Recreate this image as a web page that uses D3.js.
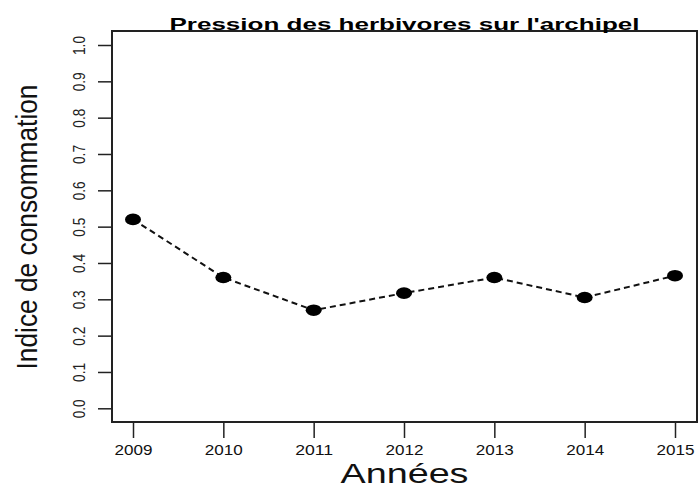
<!DOCTYPE html>
<html>
<head>
<meta charset="utf-8">
<script src="https://cdn.jsdelivr.net/npm/d3@7/dist/d3.min.js"></script>
<style>
  html, body { margin: 0; padding: 0; background: #fff; }
  svg { display: block; font-family: "Liberation Sans", Arial, sans-serif; }
</style>
</head>
<body>
<svg id="chart" width="700" height="491"></svg>
<script>
// Herbivore pressure index per year
const years = [2009, 2010, 2011, 2012, 2013, 2014, 2015];
const consumption = [0.52, 0.36, 0.27, 0.317, 0.36, 0.305, 0.365];
const yTicks = [0, 0.1, 0.2, 0.3, 0.4, 0.5, 0.6, 0.7, 0.8, 0.9, 1.0];
const title = "Pression des herbivores sur l'archipel";
const xTitle = "Années";
const yTitle = "Indice de consommation";

const svg = d3.select("#chart");
const box = { left: 112, right: 697, top: 31, bottom: 422 };

const x = d3.scaleLinear().domain([2009, 2015]).range([133, 675]);
const y = d3.scaleLinear().domain([0, 1]).range([408.3, 45]);

// Y axis: ticks and rotated labels
const yAxis = d3.axisLeft(y).tickValues(yTicks).tickSize(14).tickPadding(0)
  .tickFormat(d3.format(".1f"));
const gy = svg.append("g").attr("transform", `translate(${box.left},0)`).call(yAxis);
gy.select(".domain").remove();
gy.attr("font-size", null);
gy.selectAll(".tick line").attr("stroke", "#222").attr("stroke-width", 1.5);
gy.selectAll(".tick text")
  .attr("x", 0).attr("dy", null)
  .attr("transform", "translate(-33,0) rotate(-90)")
  .attr("text-anchor", "middle")
  .attr("dominant-baseline", "central")
  .attr("textLength", 19).attr("lengthAdjust", "spacingAndGlyphs")
  .attr("font-size", 17).attr("fill", "#222");

// X axis
const xAxis = d3.axisBottom(x).tickValues(years).tickSize(16).tickPadding(0)
  .tickFormat(d3.format("d"));
const gx = svg.append("g").attr("transform", `translate(0,${box.bottom})`).call(xAxis);
gx.select(".domain").remove();
gx.attr("font-size", null);
gx.selectAll(".tick line").attr("stroke", "#222").attr("stroke-width", 1.5);
gx.selectAll(".tick text")
  .attr("y", 33).attr("dy", null)
  .attr("textLength", 38).attr("lengthAdjust", "spacingAndGlyphs")
  .attr("font-size", 14).attr("fill", "#111");

// Plot frame
svg.append("rect")
  .attr("x", box.left).attr("y", box.top)
  .attr("width", box.right - box.left).attr("height", box.bottom - box.top)
  .attr("fill", "none").attr("stroke", "#222").attr("stroke-width", 2);

// Dashed series line
const line = d3.line().x((d, i) => x(years[i])).y(d => y(d));
svg.append("path")
  .datum(consumption)
  .attr("d", line)
  .attr("fill", "none").attr("stroke", "#111")
  .attr("stroke-width", 2).attr("stroke-dasharray", "6,4");

// Points
svg.selectAll("ellipse.pt").data(consumption).enter().append("ellipse")
  .attr("class", "pt")
  .attr("cx", (d, i) => x(years[i])).attr("cy", d => y(d))
  .attr("rx", 8).attr("ry", 5.8).attr("fill", "#000");

// Title
svg.append("text")
  .attr("x", (box.left + box.right) / 2).attr("y", 30)
  .attr("text-anchor", "middle")
  .attr("textLength", 470).attr("lengthAdjust", "spacingAndGlyphs")
  .style("font-size", "17px").style("font-weight", "bold").attr("fill", "#000")
  .text(title);

// Axis titles
svg.append("text")
  .attr("x", (box.left + box.right) / 2).attr("y", 483)
  .attr("text-anchor", "middle")
  .attr("textLength", 128).attr("lengthAdjust", "spacingAndGlyphs")
  .style("font-size", "27px").attr("fill", "#111")
  .text(xTitle);

svg.append("text")
  .attr("transform", "translate(37,227) rotate(-90)")
  .attr("text-anchor", "middle")
  .attr("textLength", 285).attr("lengthAdjust", "spacingAndGlyphs")
  .style("font-size", "29px").attr("fill", "#111")
  .text(yTitle);
</script>
</body>
</html>
